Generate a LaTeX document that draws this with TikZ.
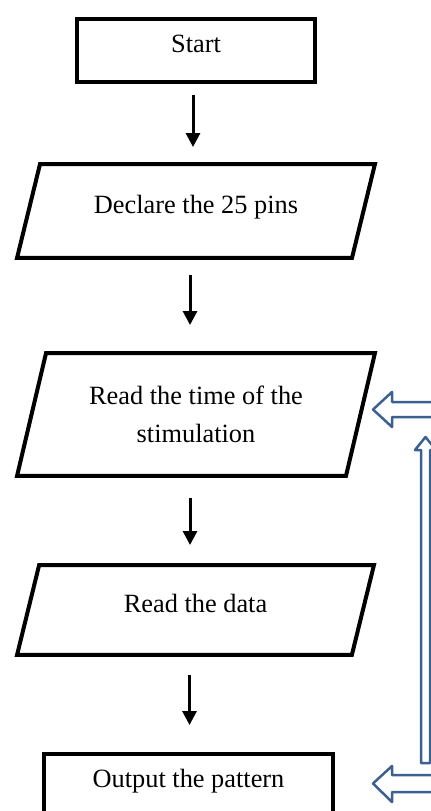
\documentclass[tikz,border=0pt]{standalone}
\usepackage{fontspec}
\setmainfont{Liberation Serif}
\usetikzlibrary{shapes.geometric,arrows.meta}
\definecolor{loopblue}{RGB}{60,97,145}

\begin{document}
\begin{tikzpicture}[x=0.02cm,y=-0.02cm,
	every node/.style={font=\fontsize{15}{21.5}\selectfont},
	procbox/.style={draw, rectangle, line width=0.08cm, minimum width=4.76cm, minimum height=1.26cm},
	iobox/.style={draw, trapezium, line width=0.08cm, trapezium left angle=76, trapezium right angle=104,
		trapezium stretches body, minimum width=7.16cm},
	textup/.style={text height=10pt, text depth=7.5pt},
	flow/.style={-{Triangle[length=0.28cm,width=0.28cm]}, line width=0.06cm},
	backarrow/.style={draw=loopblue, fill=white, line width=0.05cm, line join=round}]
	\useasboundingbox (0,0) rectangle (431,811);

	% main steps
	\node[procbox, textup] (start) at (196,50.5) {Start};
	\node[iobox, textup, inner ysep=17.5pt, minimum height=1.88cm] (pins) at (196,211) {Declare the 25 pins};
	\node[iobox, inner ysep=17pt, minimum height=2.46cm, align=center] (readtime) at (196,414.5) {Read the time of the\\stimulation};
	\node[iobox, textup, inner ysep=16.5pt, minimum height=1.8cm, minimum width=7.14cm] (readdata) at (195.5,610) {Read the data};
	\node[procbox, textup, minimum width=5.78cm] (output) at (188.5,785.5) {Output the pattern};

	% flow arrows
	\draw[flow, shorten <=0.22cm, shorten >=0.3cm] ([xshift=-0.06cm]start.south) -- ([xshift=-0.06cm]start.south |- pins.north);
	\draw[flow, shorten <=0.3cm, shorten >=0.52cm] ([xshift=-0.12cm]pins.south) -- ([xshift=-0.12cm]pins.south |- readtime.north);
	\draw[flow, shorten <=0.4cm, shorten >=0.36cm] ([xshift=-0.12cm]readtime.south) -- ([xshift=-0.12cm]readtime.south |- readdata.north);
	\draw[flow, shorten <=0.36cm, shorten >=0.54cm] ([xshift=-0.12cm]readdata.south) -- ([xshift=-0.12cm]readdata.south |- output.north);

	% loop back on the right
	\draw[backarrow] (421,763) -- (421,450) -- (415,450) -- (425.5,437) -- (436,450) -- (430,450) -- (430,763) -- cycle;
	\draw[backarrow] (445,402) -- (392,402) -- (392,392) -- (373,409.5) -- (392,427) -- (392,417) -- (445,417);
	\draw[backarrow] (445,775) -- (392,775) -- (392,766) -- (373,783.5) -- (392,802) -- (392,792) -- (445,792);
\end{tikzpicture}
\end{document}
